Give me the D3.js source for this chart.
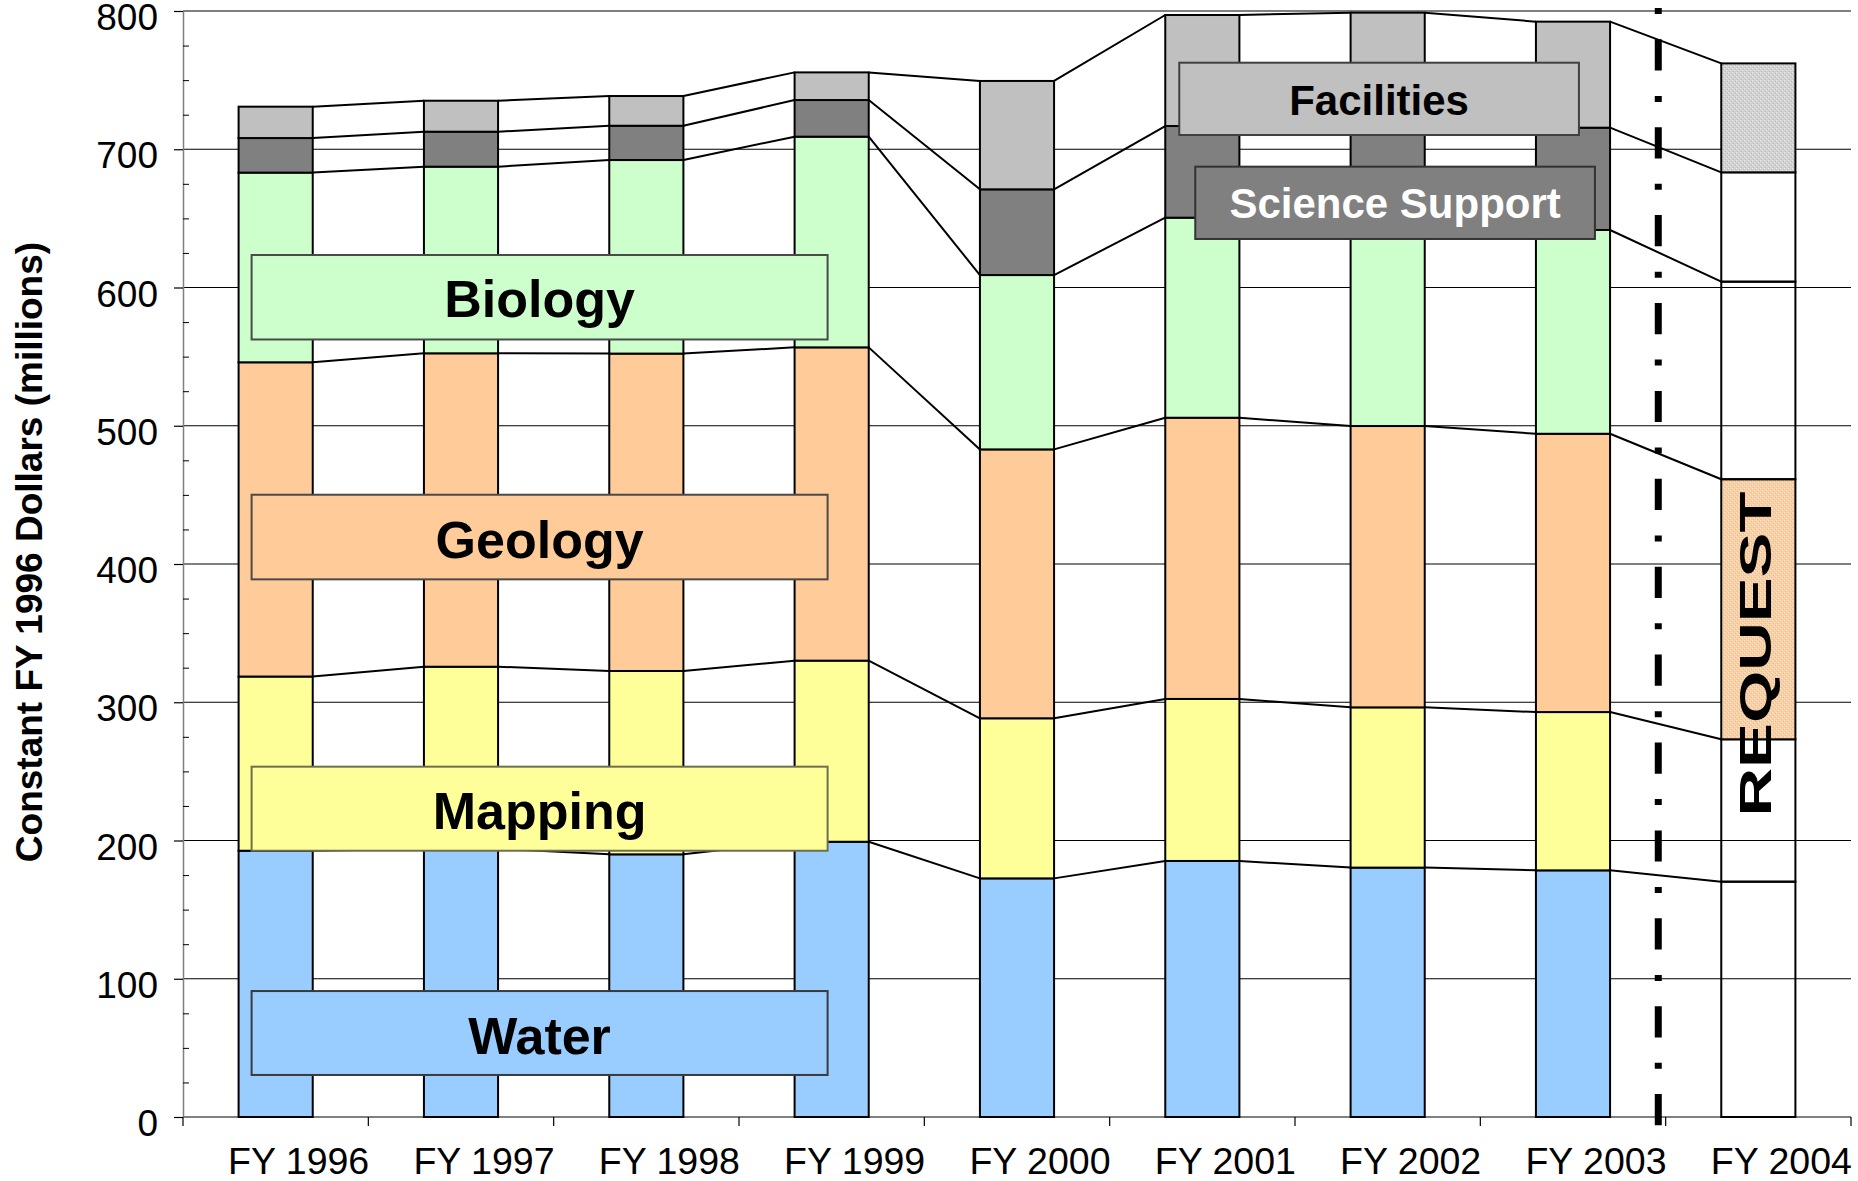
<!DOCTYPE html>
<meta charset="utf-8">
<script src="https://d3js.org/d3.v7.min.js"></script>
<style>
  body { margin: 0; background: #fff; }
  text { font-family: "Liberation Sans", Arial, sans-serif; }
</style>
<div id="my_dataviz"></div>
<script>

// fiscal years (FY 2004 is the budget request)
var years = ["FY 1996", "FY 1997", "FY 1998", "FY 1999", "FY 2000", "FY 2001", "FY 2002", "FY 2003", "FY 2004"];

// program budgets, constant FY 1996 dollars (millions), stacked from the bottom up
var water          = [192.6, 194.0, 190.0, 199.1, 172.6, 185.2, 180.4, 178.4, 170.2];
var mapping        = [126.0, 131.7, 132.6, 131.0, 115.8, 117.2, 115.9, 114.5, 103.0];
var geology        = [227.3, 226.7, 229.6, 226.6, 194.5, 203.4, 203.5, 201.3, 188.1];
var biology        = [137.2, 135.0, 140.0, 152.4, 126.1, 144.7, 146.2, 147.4, 142.9];
var scienceSupport = [ 25.0,  25.3,  24.8,  26.5,  62.0,  66.3,  71.0,  74.0,  79.1];
var facilities     = [ 22.7,  22.4,  21.5,  20.0,  78.4,  80.3,  81.8,  76.7,  78.8];

var yTicks = [0, 100, 200, 300, 400, 500, 600, 700, 800];
var yMinorTicks = [25, 50, 75, 125, 150, 175, 225, 250, 275, 325, 350, 375, 425, 450, 475,
                   525, 550, 575, 625, 650, 675, 725, 750, 775];

var keys = ["Water", "Mapping", "Geology", "Biology", "Science Support", "Facilities"];
var colors = {
  "Water": "#99ccff", "Mapping": "#ffff99", "Geology": "#ffcc99",
  "Biology": "#ccffcc", "Science Support": "#808080", "Facilities": "#c0c0c0"
};
var seriesVals = [water, mapping, geology, biology, scienceSupport, facilities];

var table = years.map(function(yr, i) {
  var row = {year: yr};
  keys.forEach(function(k, j) { row[k] = seriesVals[j][i]; });
  return row;
});

var W = 1858, H = 1181;
var svg = d3.select("#my_dataviz").append("svg")
  .attr("width", W).attr("height", H)
  .style("display", "block");

// patterns for the request year
var defs = svg.append("defs");
function stipple(id, base, light, dark) {
  var p = defs.append("pattern").attr("id", id)
    .attr("width", 4).attr("height", 4).attr("patternUnits", "userSpaceOnUse");
  p.append("rect").attr("width", 4).attr("height", 4).attr("fill", base);
  p.append("rect").attr("x", 0).attr("y", 0).attr("width", 1).attr("height", 1).attr("fill", light);
  p.append("rect").attr("x", 2).attr("y", 2).attr("width", 1).attr("height", 1).attr("fill", light);
  p.append("rect").attr("x", 1).attr("y", 3).attr("width", 1).attr("height", 1).attr("fill", dark);
  p.append("rect").attr("x", 3).attr("y", 1).attr("width", 1).attr("height", 1).attr("fill", dark);
}
stipple("reqFacilities", "#d2d2d2", "#ebebeb", "#b9b9b9");
stipple("reqGeology", "#fbcfa6", "#fde6d2", "#f4b987");

var x = d3.scaleBand()
  .domain(years)
  .range([183, 1851])
  .paddingInner(0.6)
  .paddingOuter(0.3);

var y = d3.scaleLinear()
  .domain([0, 800])
  .range([1117, 11]);

var bw = x.bandwidth();

// gridlines
svg.append("g")
  .selectAll("line")
  .data(yTicks.slice(1))
  .enter().append("line")
    .attr("x1", 183).attr("x2", 1851)
    .attr("y1", function(d) { return y(d); })
    .attr("y2", function(d) { return y(d); })
    .attr("stroke", "#000").attr("stroke-width", 1.2);

// y axis
var yAxis = svg.append("g")
  .attr("transform", "translate(183,0)")
  .call(d3.axisLeft(y).tickValues(yTicks).tickSizeInner(9).tickSizeOuter(0).tickPadding(16));
yAxis.select(".domain").attr("stroke", "#808080").attr("stroke-width", 1.5);
yAxis.selectAll(".tick line").attr("stroke", "#000").attr("stroke-width", 1.2);
yAxis.selectAll("text")
  .attr("font-size", 37).attr("fill", "#000").attr("dy", "0.5em")
  .style("font-family", "'Liberation Sans', Arial, sans-serif");

// minor ticks inside the plot
var yMinor = svg.append("g")
  .attr("transform", "translate(183,0)")
  .call(d3.axisLeft(y).tickValues(yMinorTicks).tickSizeInner(-6).tickSizeOuter(0).tickFormat(""));
yMinor.select(".domain").remove();
yMinor.selectAll(".tick line").attr("stroke", "#000").attr("stroke-width", 1);

// x axis labels (sit a little right of the bar centres, as in the original)
var xAxis = svg.append("g")
  .attr("transform", "translate(0,1117)")
  .call(d3.axisBottom(x).tickSize(0).tickPadding(30));
xAxis.select(".domain").remove();
xAxis.selectAll("text")
  .attr("font-size", 37.5).attr("fill", "#000").attr("dx", 23)
  .style("font-family", "'Liberation Sans', Arial, sans-serif");

// x axis line and category boundary ticks
svg.append("line")
  .attr("x1", 183).attr("x2", 1851).attr("y1", y(0)).attr("y2", y(0))
  .attr("stroke", "#808080").attr("stroke-width", 2);
var bounds = [x.range()[0]].concat(years.map(function(c, i) {
  return i === 0 ? null : x(c) - x.step() * x.paddingOuter();
}).filter(function(d) { return d !== null; })).concat([x.range()[1]]);
svg.append("g").selectAll("line")
  .data(bounds)
  .enter().append("line")
    .attr("x1", function(d) { return d; }).attr("x2", function(d) { return d; })
    .attr("y1", y(0)).attr("y2", y(0) + 9)
    .attr("stroke", "#000").attr("stroke-width", 1.2);

var stacked = d3.stack().keys(keys)(table);

// connector lines between adjacent bars
var conn = svg.append("g");
stacked.forEach(function(layer) {
  for (var i = 0; i < layer.length - 1; i++) {
    conn.append("line")
      .attr("x1", x(years[i]) + bw).attr("y1", y(layer[i][1]))
      .attr("x2", x(years[i + 1])).attr("y2", y(layer[i + 1][1]))
      .attr("stroke", "#000").attr("stroke-width", 2);
  }
});

// stacked bars
var last = years[years.length - 1];
svg.append("g")
  .selectAll("g")
  .data(stacked)
  .enter().append("g")
  .selectAll("rect")
  .data(function(layer) { return layer.map(function(d) { d.key = layer.key; return d; }); })
  .enter().append("rect")
    .attr("x", function(d) { return x(d.data.year); })
    .attr("y", function(d) { return y(d[1]); })
    .attr("width", bw)
    .attr("height", function(d) { return y(d[0]) - y(d[1]); })
    .attr("fill", function(d) {
      if (d.data.year === last) {
        if (d.key === "Facilities") return "url(#reqFacilities)";
        if (d.key === "Geology") return "url(#reqGeology)";
        return "none";
      }
      return colors[d.key];
    })
    .attr("stroke", "#000").attr("stroke-width", 2);

// label boxes
function labelBox(txt, x0, x1, vTop, vBot, fill, stroke, color, size, base) {
  var g = svg.append("g");
  g.append("rect")
    .attr("x", x0).attr("y", y(vTop))
    .attr("width", x1 - x0).attr("height", y(vBot) - y(vTop))
    .attr("fill", fill).attr("stroke", stroke).attr("stroke-width", 2);
  g.append("text")
    .attr("x", (x0 + x1) / 2).attr("y", y(vTop) + base)
    .attr("text-anchor", "middle")
    .attr("font-size", size).attr("font-weight", "bold").attr("fill", color)
    .text(txt);
}
var leftA = x("FY 1996") + 13, rightA = x("FY 1999") + 33;
labelBox("Biology", leftA, rightA, 623.5, 562.4, colors["Biology"], "#4a4a4a", "#000", 52, 62);
labelBox("Geology", leftA, rightA, 450.1, 388.9, colors["Geology"], "#4a4a4a", "#000", 52, 63);
labelBox("Mapping", leftA, rightA, 253.4, 192.6, colors["Mapping"], "#6e6e50", "#000", 52, 62.5);
labelBox("Water", leftA, rightA, 91.1, 30.4, colors["Water"], "#3a3a3a", "#000", 52, 62.5);
labelBox("Facilities", x("FY 2001") + 14, x("FY 2003") + 43, 762.6, 710.3, colors["Facilities"], "#404040", "#000", 42, 52.3);
labelBox("Science Support", x("FY 2001") + 30, x("FY 2003") + 59, 687.4, 635.1, colors["Science Support"], "#333", "#fff", 42, 51.3);

// REQUEST label on the last bar
var reqX = x(last) + bw / 2 + 13, reqY = 654;
svg.append("text")
  .attr("transform", "translate(" + reqX + "," + reqY + ") rotate(-90)")
  .attr("text-anchor", "middle")
  .attr("font-size", 44).attr("font-weight", "bold").attr("fill", "#000")
  .attr("textLength", 325).attr("lengthAdjust", "spacingAndGlyphs")
  .text("REQUEST");

// dash-dot separator between actuals and request
svg.append("line")
  .attr("x1", x(last) - 63).attr("x2", x(last) - 63)
  .attr("y1", y(800) - 3).attr("y2", y(0) + 9)
  .attr("stroke", "#000").attr("stroke-width", 7)
  .attr("stroke-dasharray", "6 25.3 31.2 25.4");

// y axis title
svg.append("text")
  .attr("transform", "translate(42,552) rotate(-90)")
  .attr("text-anchor", "middle")
  .attr("font-size", 37).attr("font-weight", "bold").attr("fill", "#000")
  .text("Constant FY 1996 Dollars (millions)");

</script>
